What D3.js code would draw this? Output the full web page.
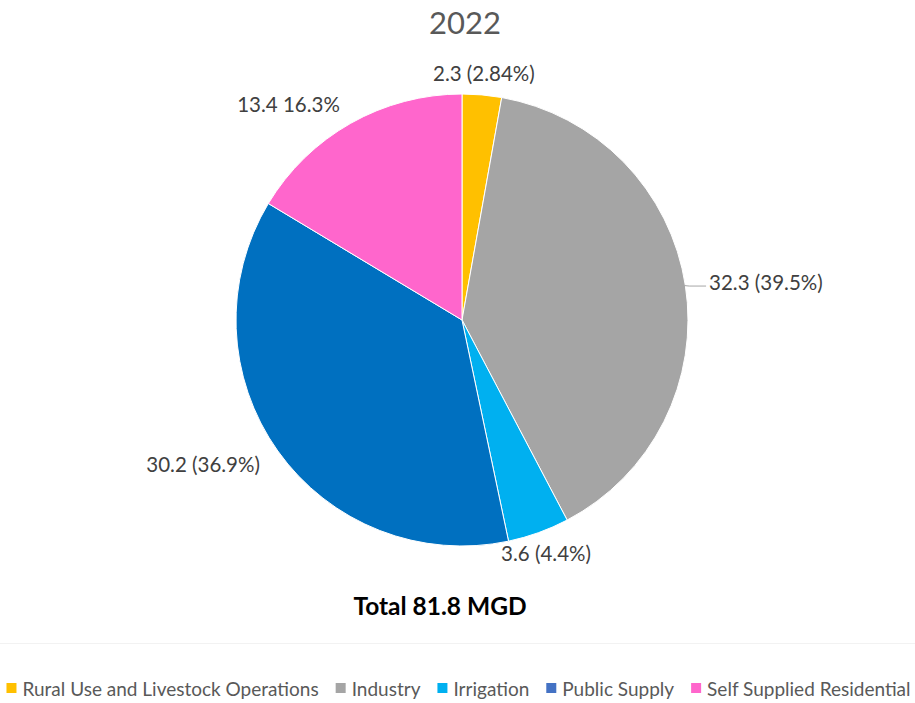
<!DOCTYPE html>
<html>
<head>
<meta charset="utf-8">
<script src="https://cdn.jsdelivr.net/npm/d3@7"></script>
<style>
  body { margin: 0; background: #fff; }
  svg { display: block; font-family: Lato, "Open Sans", sans-serif; }
</style>
</head>
<body>
<svg id="chart" width="915" height="703"></svg>
<script>
const categories = ['Rural Use and Livestock Operations', 'Industry', 'Irrigation', 'Public Supply', 'Self Supplied Residential'];
const values = [2.3, 32.3, 3.6, 30.2, 13.4];
const labels = ['2.3 (2.84%)', '32.3 (39.5%)', '3.6 (4.4%)', '30.2 (36.9%)', '13.4 16.3%'];
const sliceColors = ['#FFC000', '#A5A5A5', '#00B0F0', '#0070C0', '#FF66CC'];
// the legend swatch for public supply is a lighter blue in the original
const legendColors = ['#FFC000', '#A5A5A5', '#00B0F0', '#4472C4', '#FF66CC'];
const title = '2022';
const subtitle = 'Total 81.8 MGD';

const width = 915, height = 703;
const cx = 462, cy = 320, radius = 226;

const svg = d3.select('#chart');

svg.append('text')
    .attr('x', 465).attr('y', 22)
    .attr('text-anchor', 'middle')
    .attr('dominant-baseline', 'central')
    .style('font-size', '31px')
    .style('fill', '#595959')
    .text(title);

const pie = d3.pie().sort(null).value(d => d);
const arcs = pie(values);
const arc = d3.arc().innerRadius(0).outerRadius(radius);
const labelArc = d3.arc().innerRadius(radius + 22).outerRadius(radius + 22);

const g = svg.append('g').attr('transform', `translate(${cx},${cy})`);

g.selectAll('path.slice')
    .data(arcs)
    .join('path')
    .attr('class', 'slice')
    .attr('d', arc)
    .style('fill', (d, i) => sliceColors[i])
    .style('stroke', '#fff')
    .style('stroke-width', 1);

const midAngle = d => (d.startAngle + d.endAngle) / 2;
const anchorFor = d => {
    const s = Math.sin(midAngle(d));
    return s > 0.4 ? 'start' : s < -0.4 ? 'end' : 'middle';
};

// short leader for labels pushed out to the right
arcs.filter(d => anchorFor(d) === 'start').forEach(d => {
    const a = midAngle(d);
    const p0 = [Math.sin(a) * (radius - 1), -Math.cos(a) * (radius - 1)];
    const p1 = [Math.sin(a) * (radius + 4), -Math.cos(a) * (radius + 4)];
    const lp = labelArc.centroid(d);
    g.append('polyline')
        .attr('points', [p0, [p1[0], lp[1] + 4], [lp[0] - 1, lp[1] + 4]].map(p => p.join(',')).join(' '))
        .style('fill', 'none')
        .style('stroke', '#A6A6A6')
        .style('stroke-width', 1);
});

g.selectAll('text.label')
    .data(arcs)
    .join('text')
    .attr('class', 'label')
    .attr('transform', d => {
        const [x, y] = labelArc.centroid(d);
        return `translate(${anchorFor(d) === 'start' ? x + 2 : x},${y})`;
    })
    .attr('text-anchor', anchorFor)
    .attr('dominant-baseline', 'central')
    .style('font-size', '20.5px')
    .style('fill', '#404040')
    .text((d, i) => labels[i]);

svg.append('text')
    .attr('x', 440).attr('y', 605)
    .attr('text-anchor', 'middle')
    .attr('dominant-baseline', 'central')
    .style('font-size', '24.5px')
    .style('font-weight', 'bold')
    .style('fill', '#000')
    .text(subtitle);

svg.append('line')
    .attr('x1', 0).attr('x2', width)
    .attr('y1', 643.5).attr('y2', 643.5)
    .style('stroke', '#F2F2F2');

const legend = svg.append('g');
let x = 0;
categories.forEach((c, i) => {
    const item = legend.append('g').attr('transform', `translate(${x},0)`);
    item.append('rect')
        .attr('x', 0).attr('y', -5)
        .attr('width', 10).attr('height', 10)
        .style('fill', legendColors[i]);
    const t = item.append('text')
        .attr('x', 16).attr('y', 0)
        .attr('dominant-baseline', 'central')
        .style('font-size', '19px')
        .style('fill', '#595959')
        .text(c);
    x += 16 + t.node().getComputedTextLength() + 17;
});
const legendWidth = x - 17;
legend.attr('transform', `translate(${(width - legendWidth) / 2 + 1},688)`);
</script>
</body>
</html>
